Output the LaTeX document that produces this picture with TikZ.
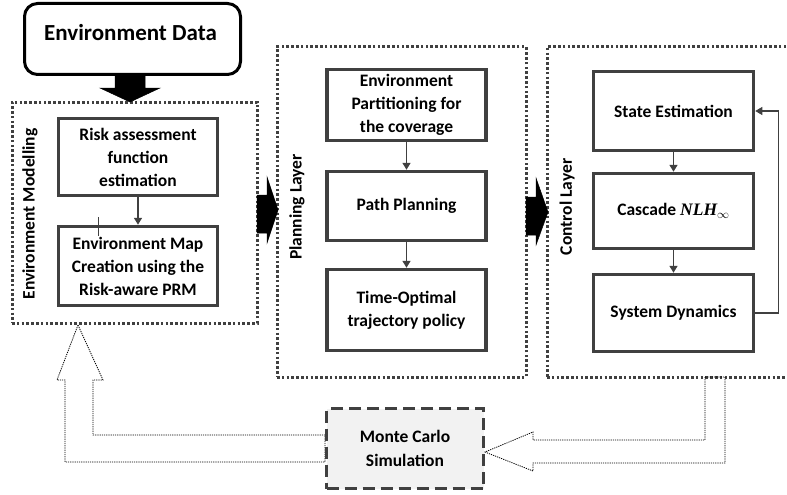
\documentclass[tikz,border=0pt]{standalone}
\usepackage{fontspec}
\setmainfont{Carlito}
\newfontfamily\mathlikefont{Liberation Serif}
\usetikzlibrary{arrows.meta,calc}
\definecolor{dg}{HTML}{404040}
\definecolor{mcfill}{HTML}{F2F2F2}
\begin{document}
\begin{tikzpicture}[x=1pt,y=-1pt,
  lbl/.style={font=\fontsize{17.5}{23}\selectfont\bfseries, align=center},
  inbox/.style={lbl, draw=dg, line width=3.5pt, minimum width=159pt, inner sep=2pt},
  layerbox/.style={draw=dg, line width=3pt, dash pattern=on 2.6pt off 2.2pt},
  flow/.style={draw=dg, line width=1.6pt, -{Triangle[width=8pt,length=7pt]}},
  fback/.style={draw=dg, line width=1.1pt, -{Triangle[width=8pt,length=7pt]}},
  blockarrow/.style={fill=black, draw=black, line width=0.5pt},
  hollow/.style={draw=black, line width=0.8pt, dash pattern=on 1.2pt off 1pt, line join=miter},
  sidelbl/.style={lbl, rotate=90}
]
\useasboundingbox (0,0) rectangle (787,495);

% Environment Data
\node[draw=black, line width=3pt, rounded corners=13pt, minimum width=216pt, minimum height=71pt] (envdata) at (132.5,39) {};
\node[font=\fontsize{23}{28}\selectfont\bfseries] (envdatatxt) at (130.5,33) {Environment Data};

% Layer boxes
\node[layerbox, minimum width=245pt, minimum height=221pt] (envmod) at (134.5,212.5) {};
\node[layerbox, minimum width=249pt, minimum height=330pt] (plan) at (401.5,212) {};
\node[layerbox, minimum width=245pt, minimum height=330pt] (ctrl) at (669.5,212) {};

\node[sidelbl] (envmodlbl) at (30,214) {Environment Modelling};
\node[sidelbl] (planlbl) at (297,207) {Planning Layer};
\node[sidelbl] (ctrllbl) at (567,207) {Control Layer};

% Environment modelling boxes
\node[inbox, minimum height=77pt] (risk) at (138,157) {Risk assessment\\function\\estimation};
\node[inbox, minimum height=79pt] (map) at (138,266) {Environment Map\\Creation using the\\Risk-aware PRM};
\draw[flow] (risk) -- (map);
\draw[dg, line width=0.6pt] (98,217) -- (98,236);

% Planning boxes
\node[inbox, minimum height=71pt] (part) at (406.5,105) {Environment\\Partitioning for\\the coverage};
\node[inbox, minimum height=69pt] (path) at (406.5,206) {Path Planning};
\node[inbox, minimum height=81pt] (topt) at (406.5,310) {Time-Optimal\\trajectory policy};
\draw[flow] (part) -- (path);
\draw[flow] (path) -- (topt);

% Control boxes
\node[inbox, minimum width=160pt, minimum height=79pt] (state) at (673.5,111) {State Estimation};
\node[inbox, minimum width=160pt, minimum height=75pt] (casc) at (673.5,211) {Cascade {\mathlikefont\bfseries\itshape NLH}$_{\infty}$};
\node[inbox, minimum width=160pt, minimum height=77pt] (sysdyn) at (673.5,313) {System Dynamics};
\draw[flow] (state) -- (casc);
\draw[flow] (casc) -- (sysdyn);
\draw[fback] (sysdyn.east) -- ++(23,0) |- (state.east);

% Block arrows
\draw[blockarrow] (115,76) -- (145,76) -- (145,88) -- (160,88) -- (130,102) -- (100,88) -- (115,88) -- cycle;
\draw[blockarrow] (257,195) -- (267,195) -- (267,177) -- (278,210) -- (267,243) -- (267,233) -- (257,233) -- cycle;
\draw[blockarrow] (526,197) -- (536,197) -- (536,178) -- (548,212) -- (536,245) -- (536,235) -- (526,235) -- cycle;

% Hollow feedback arrows
\draw[hollow] (78,325) -- (103,380) -- (93,380) -- (93,435) -- (325,435) -- (325,462) -- (65,462) -- (65,380) -- (57,380) -- cycle;
\draw[hollow] (705,377) -- (705,440) -- (533,440) -- (533,432) -- (485,452) -- (533,471) -- (533,463) -- (725,463) -- (725,377) -- cycle;

% Monte Carlo
\node[lbl, draw=dg, fill=mcfill, line width=3pt, dash pattern=on 12pt off 6pt, minimum width=157pt, minimum height=80pt, font=\fontsize{17.5}{24}\selectfont\bfseries] (mc) at (405,448.5) {Monte Carlo\\Simulation};
\end{tikzpicture}
\end{document}
